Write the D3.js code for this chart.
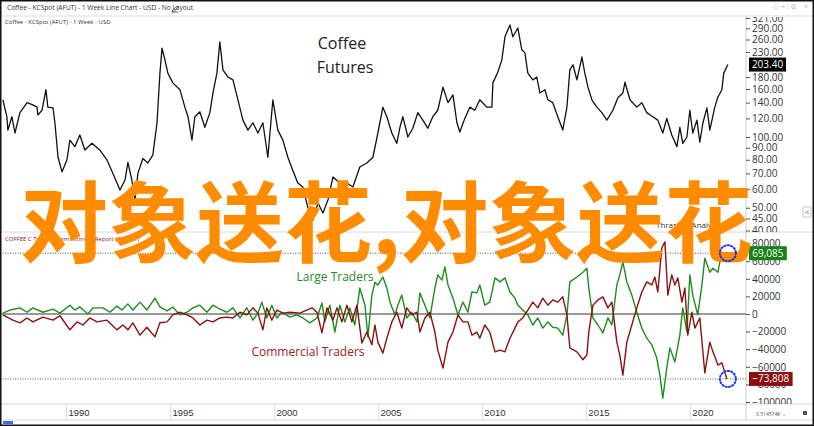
<!DOCTYPE html>
<html><head><meta charset="utf-8">
<script src="https://cdn.jsdelivr.net/npm/d3@7/dist/d3.min.js"></script>
<style>
html,body{margin:0;padding:0;background:#fff;}
svg{display:block;font-family:"Open Sans",sans-serif;}
</style></head>
<body>
<svg id="c" width="814" height="426"></svg>
<script>
// ---------- DATA ----------
const priceYears = [1986.97,1987.16,1987.21,1987.40,1987.55,1987.79,1988.13,1988.41,1988.61,1988.65,1988.85,1989.04,1989.13,1989.38,1989.47,1989.62,1989.81,1990.05,1990.19,1990.43,1990.67,1990.91,1991.25,1991.63,1991.97,1992.26,1992.60,1992.84,1992.98,1993.17,1993.32,1993.46,1993.70,1993.94,1994.18,1994.38,1994.52,1994.62,1994.76,1994.90,1995.14,1995.48,1995.72,1995.87,1996.06,1996.20,1996.44,1996.68,1996.92,1997.07,1997.26,1997.40,1997.55,1997.79,1998.03,1998.27,1998.51,1998.75,1998.99,1999.23,1999.47,1999.71,1999.95,2000.19,2000.43,2000.67,2000.91,2001.15,2001.39,2001.63,2001.88,2002.12,2002.36,2002.60,2002.84,2003.17,2003.51,2003.80,2004.13,2004.47,2004.76,2005.00,2005.24,2005.43,2005.67,2005.91,2006.06,2006.20,2006.44,2006.68,2006.92,2007.16,2007.40,2007.64,2007.88,2008.13,2008.37,2008.61,2008.80,2008.94,2009.18,2009.42,2009.66,2009.90,2010.24,2010.48,2010.53,2010.77,2010.96,2011.11,2011.35,2011.49,2011.73,2011.92,2012.07,2012.21,2012.45,2012.64,2012.79,2013.03,2013.17,2013.41,2013.65,2013.89,2014.09,2014.23,2014.38,2014.57,2014.81,2014.95,2015.10,2015.29,2015.53,2015.77,2016.01,2016.30,2016.54,2016.78,2016.88,2017.12,2017.45,2017.69,2017.93,2018.22,2018.46,2018.70,2018.89,2019.13,2019.38,2019.52,2019.66,2019.86,2020.00,2020.14,2020.34,2020.48,2020.63,2020.82,2020.96,2021.20,2021.35,2021.54,2021.63,2021.83];
const priceValues = [144,122,107,122,104,127,140,137,134,124,130,159,134,133,115,82,71,80,97,91,102,88,94,88,80,70,59.5,65.6,78,65.6,54,70,81,77.5,84,115,187,239,213,187,170,159,134,122,97,122,128,110,127,154,187,254,193,180,175,144,118,107,115,104,115,82,144,107,97,82,72,63.7,61.3,50.3,44.3,52.4,47.5,54,67.6,63.7,63.7,61.3,74.5,77.5,82,104,134,122,104,94,110,122,100,109,127,118,109,122,130,163,140,151,115,105,120,134,130,144,134,134,170,189,213,267,300,267,291,235,228,187,175,180,154,159,144,140,122,107,134,193,203,175,219,187,163,144,134,127,118,130,147,154,171,144,134,140,127,122,118,104,120,102,91,110,94,100,130,104,118,95,115,133,107,134,148,159,187,203.4];

const largeYears = [1986.97,1987.31,1987.79,1988.13,1988.41,1988.89,1989.38,1989.71,1990.19,1990.43,1990.67,1991.06,1991.30,1991.78,1992.12,1992.45,1992.69,1992.98,1993.22,1993.56,1993.89,1994.28,1994.52,1994.86,1995.14,1995.48,1995.82,1996.11,1996.44,1996.78,1997.07,1997.40,1997.74,1998.03,1998.37,1998.70,1998.99,1999.23,1999.42,1999.66,1999.90,2000.14,2000.38,2000.77,2001.11,2001.39,2001.73,2002.07,2002.31,2002.45,2002.69,2002.93,2003.17,2003.41,2003.65,2003.89,2004.13,2004.38,2004.52,2004.71,2004.86,2005.00,2005.24,2005.43,2005.58,2005.82,2005.96,2006.15,2006.39,2006.63,2006.88,2007.02,2007.26,2007.50,2007.74,2007.88,2008.08,2008.22,2008.37,2008.61,2008.85,2009.09,2009.33,2009.52,2009.76,2009.90,2010.14,2010.38,2010.63,2010.87,2011.11,2011.35,2011.59,2011.73,2011.97,2012.21,2012.45,2012.69,2012.93,2013.17,2013.41,2013.65,2013.89,2014.09,2014.23,2014.57,2014.86,2015.05,2015.14,2015.34,2015.58,2015.82,2016.06,2016.25,2016.49,2016.63,2016.78,2016.97,2017.21,2017.45,2017.69,2017.93,2018.17,2018.41,2018.56,2018.70,2018.89,2019.04,2019.28,2019.52,2019.66,2019.86,2020.00,2020.14,2020.38,2020.58,2020.72,2020.96,2021.11,2021.35,2021.44,2021.78];
const largeValues = [1000,4500,7000,2000,7000,2000,5500,1000,10000,4500,8000,0,7000,7000,2000,9000,4500,11500,4500,13500,4500,18000,8000,3500,8000,-1000,2000,7000,10000,2000,10000,5500,2000,7000,-4500,7000,-7000,1000,13500,-4500,10000,-4500,2000,-3500,-1000,-4500,-10000,-4500,12500,-9000,10000,-20500,10000,-9000,7000,-12500,29500,10000,-26000,21500,36000,33000,42000,29500,13500,-1000,10000,21500,-4500,2000,-9000,24000,10000,-4500,29500,44500,38500,53500,33000,18000,-1000,13500,2000,25000,24000,33000,10000,13500,41000,36500,41000,25000,18000,10000,4500,-1000,-12500,-4500,-16000,-9000,-15000,-16000,-24000,-1000,36500,42000,47500,52000,29500,-4500,-12500,-21500,-4500,-12500,33000,44500,59000,36500,21500,2000,-16000,-27500,-35000,-50000,-69500,-95500,-61500,-38500,-54500,-24000,7000,-20500,44500,21500,-1000,33000,63500,47500,52000,47500,59000,69085];

const commYears = [1986.97,1987.45,1987.79,1988.13,1988.41,1988.89,1989.38,1989.71,1990.19,1990.53,1990.82,1991.15,1991.49,1991.97,1992.45,1992.74,1992.98,1993.22,1993.56,1993.89,1994.28,1994.52,1994.86,1995.14,1995.48,1995.82,1996.11,1996.44,1996.78,1997.07,1997.40,1997.74,1998.03,1998.37,1998.70,1998.99,1999.23,1999.47,1999.66,1999.90,2000.14,2000.43,2000.77,2001.25,2001.83,2002.07,2002.31,2002.55,2002.84,2003.03,2003.27,2003.51,2003.75,2003.99,2004.23,2004.47,2004.71,2004.86,2005.00,2005.24,2005.43,2005.67,2005.91,2006.15,2006.39,2006.63,2006.88,2007.02,2007.26,2007.50,2007.74,2007.88,2008.13,2008.37,2008.61,2008.85,2009.09,2009.33,2009.52,2009.76,2009.90,2010.14,2010.38,2010.63,2010.87,2011.11,2011.35,2011.59,2011.73,2011.97,2012.21,2012.45,2012.69,2012.93,2013.17,2013.41,2013.65,2013.89,2014.09,2014.23,2014.57,2014.86,2015.05,2015.14,2015.34,2015.58,2015.82,2016.06,2016.25,2016.49,2016.63,2016.78,2016.97,2017.21,2017.45,2017.69,2017.93,2018.17,2018.32,2018.46,2018.65,2018.80,2018.94,2019.13,2019.28,2019.42,2019.62,2019.76,2019.90,2020.10,2020.24,2020.48,2020.72,2020.96,2021.11,2021.35,2021.54,2021.78];
const commValues = [-1000,-7000,-10000,-4500,-9000,-3500,-7000,-2000,-18000,-9000,-12500,-4500,-9000,-7000,-18000,-12500,-18000,-10000,-24000,-15000,-26000,-10000,-9000,-1000,2000,-1000,-4500,-12500,-7000,-9000,-4500,-3500,-4500,2000,-1000,7000,1000,-18000,7000,-7000,4500,1000,2000,1000,7000,2000,-21500,7000,-7000,7000,-9000,10000,-9000,10000,-33000,-20500,-35000,-12500,-32000,-44500,-27500,-9000,2000,-16000,7000,-1000,2000,-20500,-4500,2000,-20500,-41000,-61500,-32000,-20500,-1000,-9000,-9000,-24000,-20500,-27500,-12500,-20500,-43000,-41000,-43000,-27500,-16000,-9000,-4500,4500,13500,7000,18000,10000,16000,13500,19500,-1000,-38500,-43000,-52000,-46500,-20500,10000,16000,19500,7000,13500,-32000,-46500,-69500,-32000,-12500,7000,25000,36500,33000,42000,25000,75000,82000,21500,44500,33000,41000,13500,29500,-24000,2000,-16000,-4500,-67000,-32000,-43000,-58000,-55500,-73808];

const yearTicks = [1990,1995,2000,2005,2010,2015,2020];
const priceTicks = [321,290,260,230,180,160,140,120,100,90,80,70,60,50,45,40];
const cotTicks = [80000,60000,40000,20000,0,-20000,-40000,-60000,-80000,-100000];
const lastPrice = 203.40, lastLarge = 69085, lastComm = -73808;

// ---------- LAYOUT ----------
const svg = d3.select("#c");
const W = 814, H = 426, plotR = 746;
const priceTop = 16, priceBot = 232, cotTop = 233, cotBot = 404;

const x = d3.scaleLinear().domain([1986.83, 2022.7]).range([0, plotR]);
const yP = d3.scaleLog().domain([40, 321]).range([230.5, 18]);
const yC = d3.scaleLinear().domain([-100000, 80000]).range([402, 243.6]);

svg.append("rect").attr("width",W).attr("height",H).attr("fill","#fff");

// header
svg.append("text").attr("x",7).attr("y",10).attr("font-size",6.6).attr("fill","#333")
  .text("Coffee - KCSpot (AFUT) - 1 Week Line Chart - USD - No Layout");
svg.append("path").attr("d","M172,11 l5,-5 l1.2,1.2 l-5,5 z M171.5,12 h7").attr("stroke","#444").attr("stroke-width",0.8).attr("fill","none");
svg.append("text").attr("x",796).attr("y",9).attr("font-size",7).attr("fill","#bbb").attr("text-anchor","end").text("◇ ⇢ ⁝ ⧉");
svg.append("text").attr("x",808).attr("y",9).attr("font-size",7).attr("fill","#bbb").attr("text-anchor","end").text("×");
svg.append("line").attr("x1",0).attr("x2",W).attr("y1",priceTop).attr("y2",priceTop).attr("stroke","#ddd");
svg.append("text").attr("x",5).attr("y",24).attr("font-size",6).attr("fill","#333")
  .text("Coffee - KCSpot (AFUT) - 1 Week - USD");

// separators
svg.append("line").attr("x1",0).attr("x2",W).attr("y1",priceBot).attr("y2",priceBot).attr("stroke","#d8d8d8");
svg.append("line").attr("x1",0).attr("x2",W).attr("y1",cotBot).attr("y2",cotBot).attr("stroke","#d8d8d8");
svg.append("line").attr("x1",0).attr("x2",W).attr("y1",420).attr("y2",420).attr("stroke","#d8d8d8");
svg.append("line").attr("x1",plotR).attr("x2",plotR).attr("y1",priceTop).attr("y2",420).attr("stroke","#ccc");

// clips
const defs = svg.append("defs");
defs.append("clipPath").attr("id","cp").append("rect").attr("x",0).attr("y",priceTop+1).attr("width",plotR).attr("height",priceBot-priceTop-1);
defs.append("clipPath").attr("id","cc").append("rect").attr("x",0).attr("y",cotTop).attr("width",plotR).attr("height",cotBot-cotTop);
defs.append("clipPath").attr("id","ap").append("rect").attr("x",0).attr("y",priceTop+1).attr("width",70).attr("height",priceBot-priceTop-1);
defs.append("clipPath").attr("id","ac").append("rect").attr("x",0).attr("y",cotTop).attr("width",70).attr("height",cotBot-cotTop);

// price line
const pData = priceYears.map((d,i)=>[d, priceValues[i]]);
svg.append("path").attr("clip-path","url(#cp)")
  .attr("d", d3.line().x(d=>x(d[0])).y(d=>yP(d[1]))(pData))
  .attr("fill","none").attr("stroke","#111").attr("stroke-width",1.3).attr("stroke-linejoin","round");

svg.append("text").attr("x",342).attr("y",49).attr("text-anchor","middle").attr("font-size",16).attr("fill","#222").text("Coffee");
svg.append("text").attr("x",345).attr("y",73).attr("text-anchor","middle").attr("font-size",16).attr("fill","#222").text("Futures");
svg.append("text").attr("x",656).attr("y",228).attr("font-size",8).attr("fill","#333").text("Thrasher Analytics");

// price axis
const gP = svg.append("g").attr("transform",`translate(${plotR},0)`).attr("clip-path","url(#ap)")
  .call(d3.axisRight(yP).tickValues(priceTicks).tickSize(4).tickPadding(2).tickFormat(d3.format(".2f")));
gP.select(".domain").remove();
gP.selectAll("line").attr("stroke","#555");
gP.selectAll("text").attr("font-size",10).attr("fill","#333").attr("font-family","Open Sans");

// price last value box
const pyl = yP(lastPrice);
svg.append("rect").attr("x",749).attr("y",pyl-7).attr("width",37).attr("height",14).attr("fill","#000");
svg.append("text").attr("x",767.5).attr("y",pyl+3.5).attr("text-anchor","middle").attr("font-size",10).attr("fill","#fff").text(d3.format(".2f")(lastPrice));

// scroll button
svg.append("rect").attr("x",803).attr("y",207).attr("width",8).attr("height",10).attr("fill","#fff").attr("stroke","#ccc");
svg.append("text").attr("x",807).attr("y",215).attr("text-anchor","middle").attr("font-size",8).attr("fill","#666").text("<");

// COT panel
svg.append("text").attr("x",5).attr("y",241).attr("font-size",6).attr("fill","#8b1a1a")
  .text("COFFEE C Traders Commitment Report (083731)");

const gCot = svg.append("g").attr("clip-path","url(#cc)");
gCot.append("line").attr("x1",0).attr("x2",plotR).attr("y1",yC(0)).attr("y2",yC(0)).attr("stroke","#777").attr("stroke-width",1.4);
[lastLarge,lastComm].forEach(v=>{
  gCot.append("line").attr("x1",0).attr("x2",plotR).attr("y1",yC(v)).attr("y2",yC(v))
    .attr("stroke","#555").attr("stroke-width",1).attr("stroke-dasharray","1,1.5");
});
const lineC = d3.line().x(d=>x(d[0])).y(d=>yC(d[1]));
gCot.append("path").attr("d", lineC(largeYears.map((d,i)=>[d,largeValues[i]])))
  .attr("fill","none").attr("stroke","#1e8c1e").attr("stroke-width",1.4).attr("stroke-linejoin","round");
gCot.append("path").attr("d", lineC(commYears.map((d,i)=>[d,commValues[i]])))
  .attr("fill","none").attr("stroke","#8b1010").attr("stroke-width",1.4).attr("stroke-linejoin","round");

svg.append("text").attr("x",335).attr("y",281).attr("text-anchor","middle").attr("font-size",12).attr("fill","#2a8a2a").text("Large Traders");
svg.append("text").attr("x",308).attr("y",356).attr("text-anchor","middle").attr("font-size",12).attr("fill","#a02020").text("Commercial Traders");

const gC = svg.append("g").attr("transform",`translate(${plotR},0)`).attr("clip-path","url(#ac)")
  .call(d3.axisRight(yC).tickValues(cotTicks).tickSize(4).tickPadding(2).tickFormat(d3.format("d")));
gC.select(".domain").remove();
gC.selectAll("line").attr("stroke","#555");
gC.selectAll("text").attr("font-size",10).attr("fill","#333").attr("font-family","Open Sans");

const fmtC = d3.format(",");
[[lastLarge,"#158215"],[lastComm,"#8b1010"]].forEach(([v,c])=>{
  const s = fmtC(v), w = s.length*5.8+3;
  svg.append("rect").attr("x",749).attr("y",yC(v)-7).attr("width",w).attr("height",14).attr("fill",c);
  svg.append("text").attr("x",749+w/2).attr("y",yC(v)+3.5).attr("text-anchor","middle").attr("font-size",10).attr("fill","#fff").text(s);
});

// x axis
const gX = svg.append("g").attr("transform",`translate(0,${cotBot})`)
  .call(d3.axisBottom(x).tickValues(yearTicks).tickSize(16).tickFormat(d3.format("d")));
gX.select(".domain").remove();
gX.selectAll("line").attr("stroke","#ddd");
gX.selectAll("text").attr("font-size",9.5).attr("fill","#333").attr("text-anchor","start").attr("x",2).attr("y",5).attr("dy","0.71em");

svg.append("text").attr("x",756).attr("y",416).attr("font-size",5).attr("fill","#555").text("0.514574€ ⇔");
svg.append("rect").attr("x",803).attr("y",411).attr("width",4).attr("height",4).attr("fill","#555");
svg.append("rect").attr("x",3).attr("y",421).attr("width",10).attr("height",3).attr("fill","#3a6fd8");

// overlay text
svg.append("text").attr("x",20).attr("y",255)
  .attr("font-family","'Noto Sans CJK SC'").attr("font-weight",700).attr("font-size",88).attr("fill","#FF8C00")
  .text("对象送花,对象送花");

// blue dotted markers
[[2021.78,lastLarge],[2021.78,lastComm]].forEach(([t,v])=>{
  svg.append("circle").attr("cx",x(t)+1).attr("cy",yC(v)).attr("r",8).attr("fill","none")
    .attr("stroke","#2233ee").attr("stroke-width",2).attr("stroke-dasharray","1.2,2.2").attr("stroke-linecap","round");
});

// frame
svg.append("rect").attr("x",0.75).attr("y",0.75).attr("width",W-1.5).attr("height",H-1.5).attr("fill","none").attr("stroke","#111").attr("stroke-width",1.5);
</script>
</body></html>
